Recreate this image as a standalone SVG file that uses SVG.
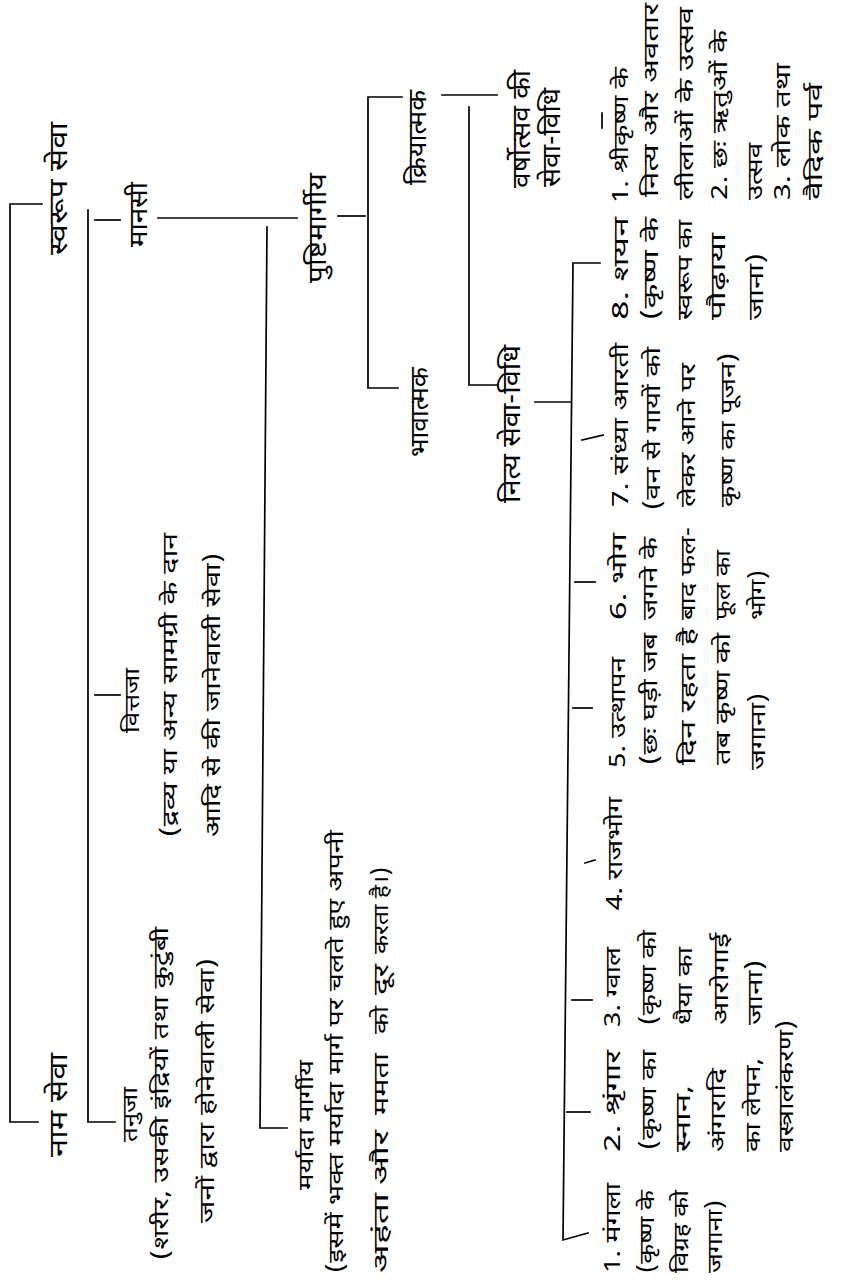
<svg xmlns="http://www.w3.org/2000/svg" width="850" height="1282" viewBox="0 0 850 1282">
<style>
text{font-family:"Noto Sans Devanagari","Noto Sans","Lohit Devanagari","FreeSans",sans-serif;fill:#000}
.big{font-size:26px}
.ttl{font-size:20px}
.dsc{font-size:21px}
.itm{font-size:21px}
.ln{fill:none;stroke:#000;stroke-width:1.7;stroke-linecap:square}
</style>
<rect width="850" height="1282" fill="#fff"/>
<g transform="translate(0,1282) rotate(-90)">
<g id="connectors" class="ln">
<path d="M160 38 V10 H1078 V42"/>
<path d="M160 115 V88 H1072"/>
<path d="M1062 95 V120"/>
<path d="M587 95 V120"/>
<path d="M1064 158 V297"/>
<path d="M154 287 V260 L1055 267"/>
<path d="M1066 338 V365"/>
<path d="M1185 402 V368 H894 V398"/>
<path d="M1187 442 V497"/>
<path d="M1175 469 H897 V497"/>
<path d="M880 535 V570"/>
<path d="M1019 600 V573 L42 563 L49 588"/>
<path d="M842 582 L847 603"/>
<path d="M700 575 V595"/>
<path d="M574 573 V592"/>
<path d="M419 585 L422 595"/>
<path d="M282 572 V592"/>
<path d="M170 567 V590"/>
<path d="M1154 602 H1169"/>
</g>
<g id="naam-seva"><text class="big" x="125" y="67" textLength="104" lengthAdjust="spacingAndGlyphs">नाम सेवा</text></g>
<g id="swaroop-seva"><text class="big" x="1027" y="67" textLength="133" lengthAdjust="spacingAndGlyphs">स्वरूप सेवा</text></g>
<g id="tanuja">
<text class="ttl" x="140" y="137" textLength="55" lengthAdjust="spacingAndGlyphs">तनुजा</text>
<text class="dsc" x="22" y="168" textLength="333" lengthAdjust="spacingAndGlyphs">(शरीर, उसकी इंद्रियों तथा कुटुंबी</text>
<text class="dsc" x="59" y="214" textLength="265" lengthAdjust="spacingAndGlyphs">जनों द्वारा होनेवाली सेवा)</text>
</g>
<g id="vittaja">
<text class="ttl" x="549" y="139" textLength="65" lengthAdjust="spacingAndGlyphs">वित्तजा</text>
<text class="dsc" x="445" y="177" textLength="304" lengthAdjust="spacingAndGlyphs">(द्रव्य या अन्य सामग्री के दान</text>
<text class="dsc" x="445" y="220" textLength="284" lengthAdjust="spacingAndGlyphs">आदि से की जानेवाली सेवा)</text>
</g>
<g id="manasi"><text class="big" x="1035" y="147" textLength="65" lengthAdjust="spacingAndGlyphs">मानसी</text></g>
<g id="maryada">
<text class="ttl" x="92" y="313" textLength="130" lengthAdjust="spacingAndGlyphs">मर्यादा मार्गीय</text>
<text class="dsc" x="9" y="343" textLength="443" lengthAdjust="spacingAndGlyphs">(इसमें भक्त मर्यादा मार्ग पर चलते हुए अपनी</text>
<text class="dsc" y="388"><tspan x="9" textLength="80" lengthAdjust="spacingAndGlyphs">अहंता</tspan><tspan x="97" textLength="55" lengthAdjust="spacingAndGlyphs">और</tspan><tspan x="167" textLength="62" lengthAdjust="spacingAndGlyphs">ममता</tspan><tspan x="248" textLength="28" lengthAdjust="spacingAndGlyphs">को</tspan><tspan x="287" textLength="31" lengthAdjust="spacingAndGlyphs">दूर</tspan><tspan x="328" textLength="87" lengthAdjust="spacingAndGlyphs">करता है।)</tspan></text>
</g>
<g id="pushti"><text class="big" x="999" y="326" textLength="110" lengthAdjust="spacingAndGlyphs">पुष्टिमार्गीय</text></g>
<g id="kriyatmak"><text class="big" x="1097" y="426" textLength="95" lengthAdjust="spacingAndGlyphs">क्रियात्मक</text></g>
<g id="bhavatmak"><text class="big" x="825" y="428" textLength="90" lengthAdjust="spacingAndGlyphs">भावात्मक</text></g>
<g id="varshotsav">
<text class="big" x="1094" y="530" textLength="118" lengthAdjust="spacingAndGlyphs">वर्षोत्सव की</text>
<text class="big" x="1095" y="560" textLength="99" lengthAdjust="spacingAndGlyphs">सेवा-विधि</text>
</g>
<g id="nitya"><text class="big" x="779" y="520" textLength="158" lengthAdjust="spacingAndGlyphs">नित्य सेवा-विधि</text></g>
<g id="utsav-list">
<text class="itm" x="1079" y="628" textLength="136" lengthAdjust="spacingAndGlyphs">1. श्रीकृष्ण के</text>
<text class="itm" x="1085" y="658" textLength="194" lengthAdjust="spacingAndGlyphs">नित्य और अवतार</text>
<text class="itm" x="1082" y="693" textLength="193" lengthAdjust="spacingAndGlyphs">लीलाओं के उत्सव</text>
<text class="itm" x="1082" y="727" textLength="170" lengthAdjust="spacingAndGlyphs">2. छः ऋतुओं के</text>
<text class="itm" x="1082" y="762" textLength="57" lengthAdjust="spacingAndGlyphs">उत्सव</text>
<text class="itm" x="1082" y="790" textLength="137" lengthAdjust="spacingAndGlyphs">3. लोक तथा</text>
<text class="itm" x="1082" y="822" textLength="117" lengthAdjust="spacingAndGlyphs">वैदिक पर्व</text>
</g>
<g id="shayan">
<text class="itm" x="962" y="628" textLength="103" lengthAdjust="spacingAndGlyphs">8. शयन</text>
<text class="itm" x="962" y="658" textLength="103" lengthAdjust="spacingAndGlyphs">(कृष्ण के</text>
<text class="itm" x="962" y="692" textLength="100" lengthAdjust="spacingAndGlyphs">स्वरूप का</text>
<text class="itm" x="962" y="725" textLength="87" lengthAdjust="spacingAndGlyphs">पौढ़ाया</text>
<text class="itm" x="962" y="763" textLength="67" lengthAdjust="spacingAndGlyphs">जाना)</text>
</g>
<g id="sandhya">
<text class="itm" x="775" y="628" textLength="164" lengthAdjust="spacingAndGlyphs">7. संध्या आरती</text>
<text class="itm" x="772" y="660" textLength="163" lengthAdjust="spacingAndGlyphs">(वन से गायों को</text>
<text class="itm" x="775" y="695" textLength="144" lengthAdjust="spacingAndGlyphs">लेकर आने पर</text>
<text class="itm" x="775" y="735" textLength="154" lengthAdjust="spacingAndGlyphs">कृष्ण का पूजन)</text>
</g>
<g id="bhog">
<text class="itm" x="662" y="626" textLength="87" lengthAdjust="spacingAndGlyphs">6. भोग</text>
<text class="itm" x="662" y="657" textLength="83" lengthAdjust="spacingAndGlyphs">जगने के</text>
<text class="itm" x="662" y="695" textLength="93" lengthAdjust="spacingAndGlyphs">बाद फल-</text>
<text class="itm" x="662" y="730" textLength="70" lengthAdjust="spacingAndGlyphs">फूल का</text>
<text class="itm" x="662" y="765" textLength="50" lengthAdjust="spacingAndGlyphs">भोग)</text>
</g>
<g id="utthapan">
<text class="itm" x="514" y="625" textLength="111" lengthAdjust="spacingAndGlyphs">5. उत्थापन</text>
<text class="itm" x="517" y="657" textLength="132" lengthAdjust="spacingAndGlyphs">(छः घड़ी जब</text>
<text class="itm" x="517" y="695" textLength="137" lengthAdjust="spacingAndGlyphs">दिन रहता है</text>
<text class="itm" x="517" y="730" textLength="132" lengthAdjust="spacingAndGlyphs">तब कृष्ण को</text>
<text class="itm" x="512" y="765" textLength="77" lengthAdjust="spacingAndGlyphs">जगाना)</text>
</g>
<g id="rajbhog"><text class="itm" x="372" y="622" textLength="113" lengthAdjust="spacingAndGlyphs">4. राजभोग</text></g>
<g id="gwal">
<text class="itm" x="255" y="620" textLength="80" lengthAdjust="spacingAndGlyphs">3. ग्वाल</text>
<text class="itm" x="257" y="656" textLength="95" lengthAdjust="spacingAndGlyphs">(कृष्ण को</text>
<text class="itm" x="257" y="692" textLength="78" lengthAdjust="spacingAndGlyphs">धैया का</text>
<text class="itm" x="257" y="728" textLength="92" lengthAdjust="spacingAndGlyphs">आरोगाई</text>
<text class="itm" x="257" y="762" textLength="65" lengthAdjust="spacingAndGlyphs">जाना)</text>
</g>
<g id="shringar">
<text class="itm" x="130" y="620" textLength="102" lengthAdjust="spacingAndGlyphs">2. श्रृंगार</text>
<text class="itm" x="132" y="656" textLength="100" lengthAdjust="spacingAndGlyphs">(कृष्ण का</text>
<text class="itm" x="130" y="690" textLength="67" lengthAdjust="spacingAndGlyphs">स्नान,</text>
<text class="itm" x="130" y="725" textLength="84" lengthAdjust="spacingAndGlyphs">अंगरादि</text>
<text class="itm" x="130" y="760" textLength="94" lengthAdjust="spacingAndGlyphs">का लेपन,</text>
<text class="itm" x="130" y="793" textLength="132" lengthAdjust="spacingAndGlyphs">वस्त्रालंकरण)</text>
</g>
<g id="mangala">
<text class="itm" x="9" y="620" textLength="90" lengthAdjust="spacingAndGlyphs">1. मंगला</text>
<text class="itm" x="9" y="654" textLength="83" lengthAdjust="spacingAndGlyphs">(कृष्ण के</text>
<text class="itm" x="9" y="688" textLength="83" lengthAdjust="spacingAndGlyphs">विग्रह को</text>
<text class="itm" x="9" y="722" textLength="73" lengthAdjust="spacingAndGlyphs">जगाना)</text>
</g>
</g>
</svg>
